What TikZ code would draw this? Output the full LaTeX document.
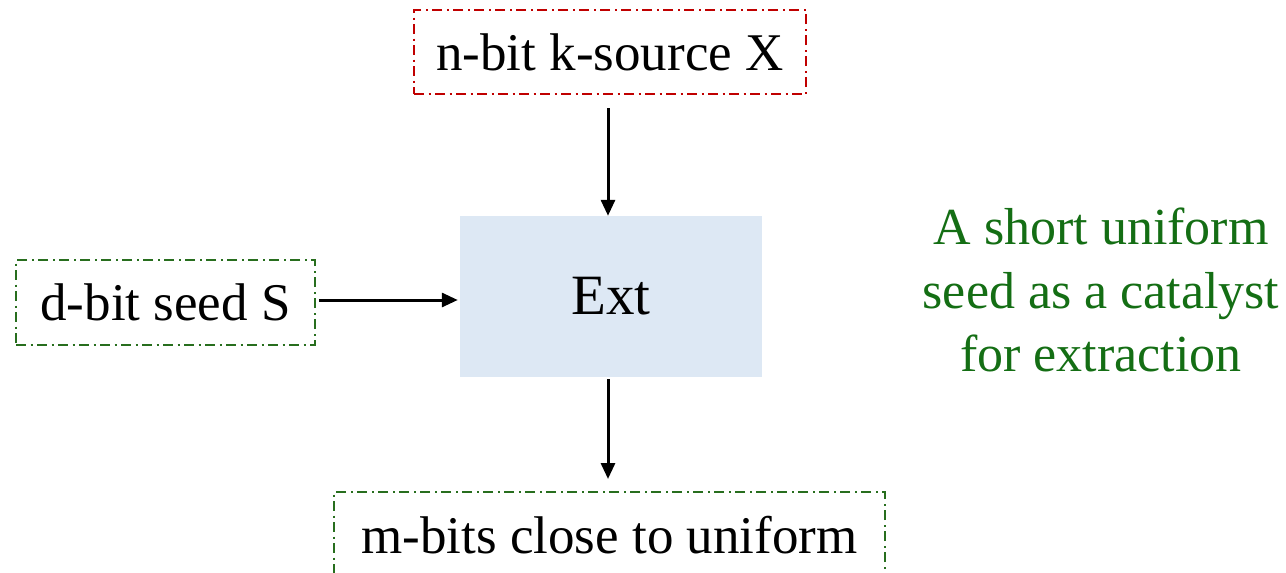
\documentclass[tikz,border=0pt]{standalone}
\usepackage{fontspec}
\setmainfont{Liberation Serif}
\usetikzlibrary{arrows.meta}
\definecolor{boxred}{RGB}{192,0,0}
\definecolor{boxgreen}{RGB}{40,110,30}
\definecolor{notegreen}{RGB}{20,110,20}
\definecolor{extfill}{RGB}{221,232,244}
\tikzset{
  x=1pt, y=-1pt,
  dashdot/.style={line width=2pt, dash pattern=on 10pt off 4.5pt on 2pt off 4.5pt},
  iobox/.style={dashdot, inner sep=0pt, font=\fontsize{53}{63}\selectfont},
  flow/.style={line width=3pt, -{Triangle[length=16pt,width=14pt]}},
}
\begin{document}
\begin{tikzpicture}
\useasboundingbox (0,0) rectangle (1286,573);
\node[iobox, draw=boxred, minimum width=392pt, minimum height=84pt] (src) at (610,52) {n-bit k-source X};
\node[fill=extfill, minimum width=302pt, minimum height=161pt, inner sep=0pt, font=\fontsize{57}{66}\selectfont] (ext) at (611,296.5) {Ext};
\node[iobox, draw=boxgreen, minimum width=299pt, minimum height=85pt] (seed) at (165.5,302.5) {d-bit seed S};
\node[iobox, draw=boxgreen, minimum width=551pt, minimum height=86pt] (out) at (609.5,535) {m-bits close to uniform};
\node[text=notegreen, align=center, font=\fontsize{52}{63.5}\selectfont] (note) at (1101,290) {A short uniform\\seed as a catalyst\\for extraction};
\draw[flow, shorten <=13pt] (src.south -| 608,0) -- (ext.north -| 608,0);
\draw[flow, shorten <=3pt, shorten >=2pt] (seed.east |- 0,300) -- (ext.west |- 0,300);
\draw[flow, shorten <=2pt, shorten >=12pt] (ext.south -| 608,0) -- (out.north -| 608,0);
\end{tikzpicture}
\end{document}
